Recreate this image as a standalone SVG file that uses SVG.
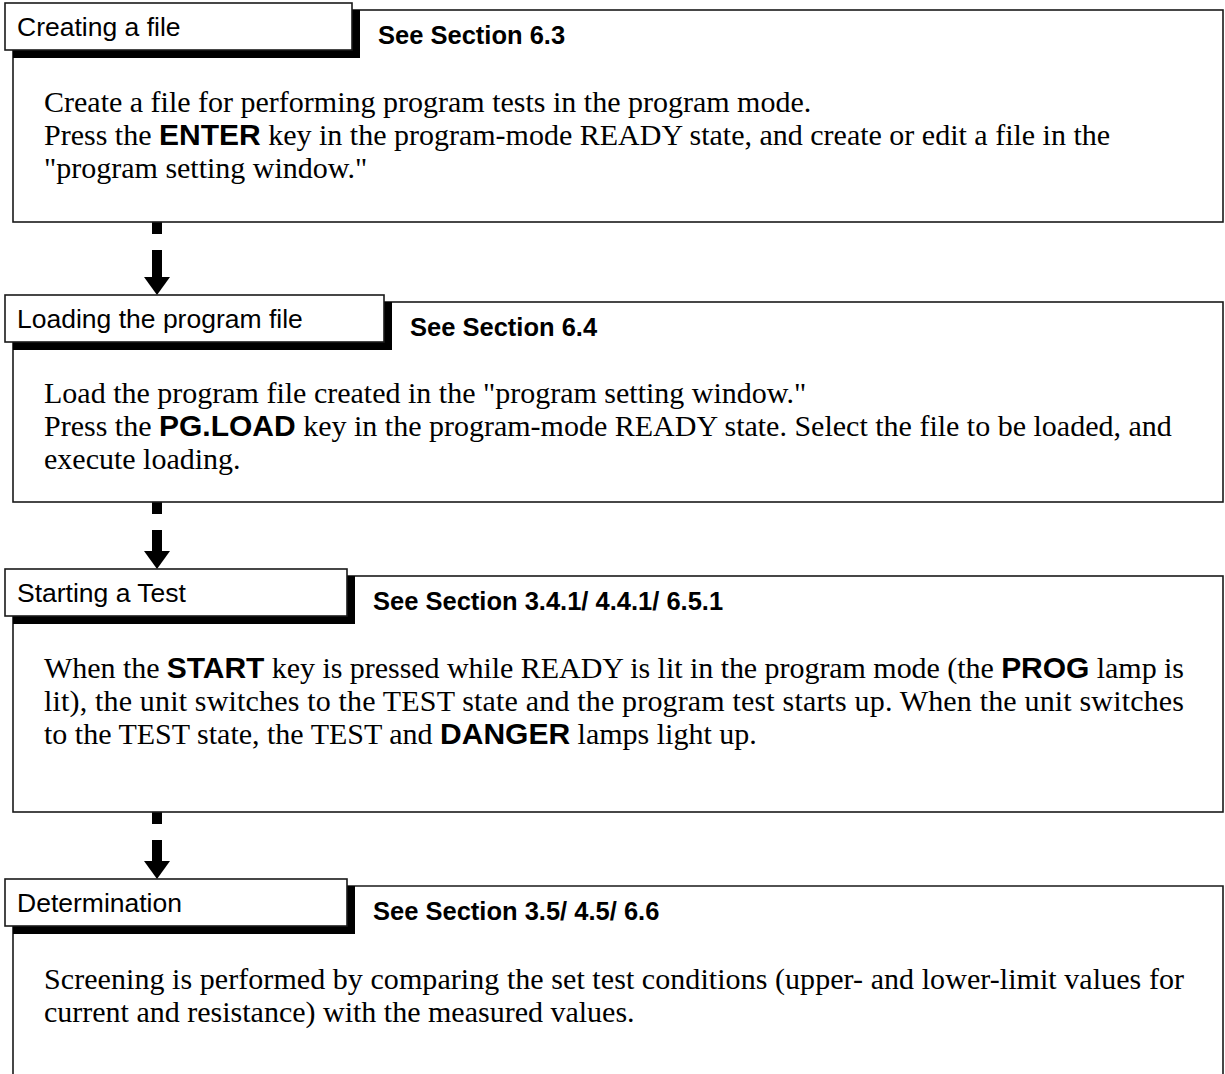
<svg xmlns="http://www.w3.org/2000/svg" width="1225" height="1074" viewBox="0 0 1225 1074">
<style>
.frame{fill:none;stroke:#1a1a1a;stroke-width:1.6}
.tab{fill:#fff;stroke:#1a1a1a;stroke-width:1.6}
.shadow{fill:#000}
.title{font-family:"Liberation Sans",Arial,sans-serif;font-size:26.5px;fill:#000}
.ref{font-family:"Liberation Sans",Arial,sans-serif;font-size:25.5px;font-weight:bold;fill:#000}
.body{font-family:"Liberation Serif","Times New Roman",serif;font-size:30px;fill:#000}
.kw{font-family:"Liberation Sans",Arial,sans-serif;font-weight:bold}
.arrow{fill:#000}
</style>
<rect width="1225" height="1074" fill="#fff"/>

<g id="connectors">
  <g id="arrow1">
    <rect class="arrow" x="152" y="222" width="10" height="12"/>
    <rect class="arrow" x="152" y="250" width="10" height="28"/>
    <polygon class="arrow" points="144,277 170,277 157,295"/>
  </g>
  <g id="arrow2">
    <rect class="arrow" x="152" y="502" width="10" height="12"/>
    <rect class="arrow" x="152" y="530" width="10" height="22"/>
    <polygon class="arrow" points="144,551 170,551 157,569"/>
  </g>
  <g id="arrow3">
    <rect class="arrow" x="152" y="812" width="10" height="12"/>
    <rect class="arrow" x="152" y="840" width="10" height="22"/>
    <polygon class="arrow" points="144,861 170,861 157,879"/>
  </g>
</g>

<g id="node-creating">
  <rect class="frame" x="13" y="10" width="1210" height="212"/>
  <rect class="shadow" x="13" y="10" width="347" height="48"/>
  <rect class="tab" x="5" y="3" width="347" height="47"/>
  <text class="title" x="17" y="36">Creating a file</text>
  <text class="ref" x="378" y="44">See Section 6.3</text>
  <text class="body" x="44" y="112">Create a file for performing program tests in the program mode.</text>
  <text class="body" x="44" y="145">Press the <tspan class="kw">ENTER</tspan> key in the program-mode READY state, and create or edit a file in the</text>
  <text class="body" x="44" y="178">"program setting window."</text>
</g>

<g id="node-loading">
  <rect class="frame" x="13" y="302" width="1210" height="200"/>
  <rect class="shadow" x="13" y="302" width="379" height="48"/>
  <rect class="tab" x="5" y="295" width="379" height="47"/>
  <text class="title" x="17" y="328">Loading the program file</text>
  <text class="ref" x="410" y="336">See Section 6.4</text>
  <text class="body" x="44" y="403">Load the program file created in the "program setting window."</text>
  <text class="body" x="44" y="436">Press the <tspan class="kw">PG.LOAD</tspan> key in the program-mode READY state. Select the file to be loaded, and</text>
  <text class="body" x="44" y="469">execute loading.</text>
</g>

<g id="node-starting">
  <rect class="frame" x="13" y="576" width="1210" height="236"/>
  <rect class="shadow" x="13" y="576" width="342" height="48"/>
  <rect class="tab" x="5" y="569" width="342" height="47"/>
  <text class="title" x="17" y="602">Starting a Test</text>
  <text class="ref" x="373" y="610">See Section 3.4.1/ 4.4.1/ 6.5.1</text>
  <text class="body" x="44" y="678" textLength="1140" lengthAdjust="spacing">When the <tspan class="kw">START</tspan> key is pressed while READY is lit in the program mode (the <tspan class="kw">PROG</tspan> lamp is</text>
  <text class="body" x="44" y="711" textLength="1140" lengthAdjust="spacing">lit), the unit switches to the TEST state and the program test starts up. When the unit switches</text>
  <text class="body" x="44" y="744">to the TEST state, the TEST and <tspan class="kw">DANGER</tspan> lamps light up.</text>
</g>

<g id="node-determination">
  <path class="frame" d="M13,1080 V886 H1223 V1080"/>
  <rect class="shadow" x="13" y="886" width="342" height="48"/>
  <rect class="tab" x="5" y="879" width="342" height="47"/>
  <text class="title" x="17" y="912">Determination</text>
  <text class="ref" x="373" y="920">See Section 3.5/ 4.5/ 6.6</text>
  <text class="body" x="44" y="989" textLength="1140" lengthAdjust="spacing">Screening is performed by comparing the set test conditions (upper- and lower-limit values for</text>
  <text class="body" x="44" y="1022">current and resistance) with the measured values.</text>
</g>
</svg>
